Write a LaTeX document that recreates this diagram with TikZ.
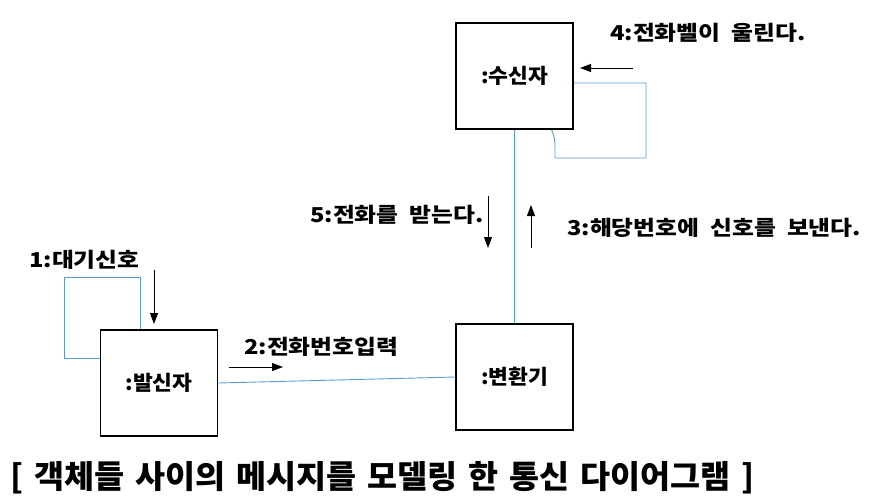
\documentclass[tikz,border=0pt]{standalone}
\usepackage{fontspec}
\setmainfont{Noto Sans CJK KR}
\newfontfamily\labelfont{Noto Sans CJK KR}[FakeStretch=1.16]
\newfontfamily\namefont{Noto Sans CJK KR}[FakeStretch=1.05]
\newfontfamily\titlefont{Noto Sans CJK KR}[FakeStretch=1.02]
\usetikzlibrary{arrows.meta}
\definecolor{linkblue}{HTML}{5B9BD5}
\newcommand{\msgfont}{\labelfont\bfseries\fontsize{20.5}{20.5}\selectfont\spaceskip=11pt\relax}
\newcommand{\objfont}{\namefont\bfseries\fontsize{20.5}{20.5}\selectfont}
\newcommand{\capfont}{\titlefont\bfseries\fontsize{32}{32}\selectfont\spaceskip=11pt\relax}
\tikzset{
  object/.style={draw=black, line width=1.8pt, minimum width=117pt, minimum height=106pt, font=\objfont},
  link/.style={draw=linkblue, line width=0.9pt},
  msg/.style={-{Triangle[length=11pt,width=8pt]}, line width=0.9pt},
  msglabel/.style={anchor=west, inner sep=0pt, font=\msgfont}
}

\begin{document}
\begin{tikzpicture}[x=1pt, y=-1pt]
  \useasboundingbox (0,0) rectangle (872,503);
  % the three objects
  \node[object] (recv) at (514.5,76)  {:수신자};
  \node[object] (send) at (159,383)   {:발신자};
  \node[object] (conv) at (514.5,377) {:변환기};
  % links
  \draw[link] (send.east) -- (conv.west);
  \draw[link] (recv.south -| conv.north) -- (conv.north);
  \draw[link] ([yshift=25pt]send.west) -- ++(-35,0) |- ([xshift=-19pt,yshift=52pt]send.north) -- ([xshift=-19pt]send.north);
  \draw[link] ([yshift=-7pt]recv.east) -- (646,83) -- (646,158) -- (555,158) -- (555,148)
    .. controls (555,137) and (553,133) .. ([xshift=37pt]recv.south);
  % messages
  \foreach \name/\a/\b in {one/{154,270}/{154,324}, two/{229,367}/{283,367},
      three/{531,248}/{531,205}, four/{633,68}/{580,68}, five/{488,196}/{488,248}}{
    \coordinate (\name-tail) at (\a);
    \coordinate (\name-head) at (\b);
    \draw[msg] (\name-tail) -- (\name-head);
  }
  \node[msglabel] (l1) at (29,260)  {1:대기신호};
  \node[msglabel] (l2) at (244,347) {2:전화번호입력};
  \node[msglabel] (l3) at (567,228) {3:해당번호에 신호를 보낸다.};
  \node[msglabel] (l4) at (610,33)  {4:전화벨이 울린다.};
  \node[msglabel] (l5) at (310,215) {5:전화를 받는다.};
  % caption
  \node[anchor=west, inner sep=0pt, font=\capfont] (title) at (10,478)
    {[ 객체들 사이의 메시지를 모델링 한 통신 다이어그램 ]};
\end{tikzpicture}
\end{document}
